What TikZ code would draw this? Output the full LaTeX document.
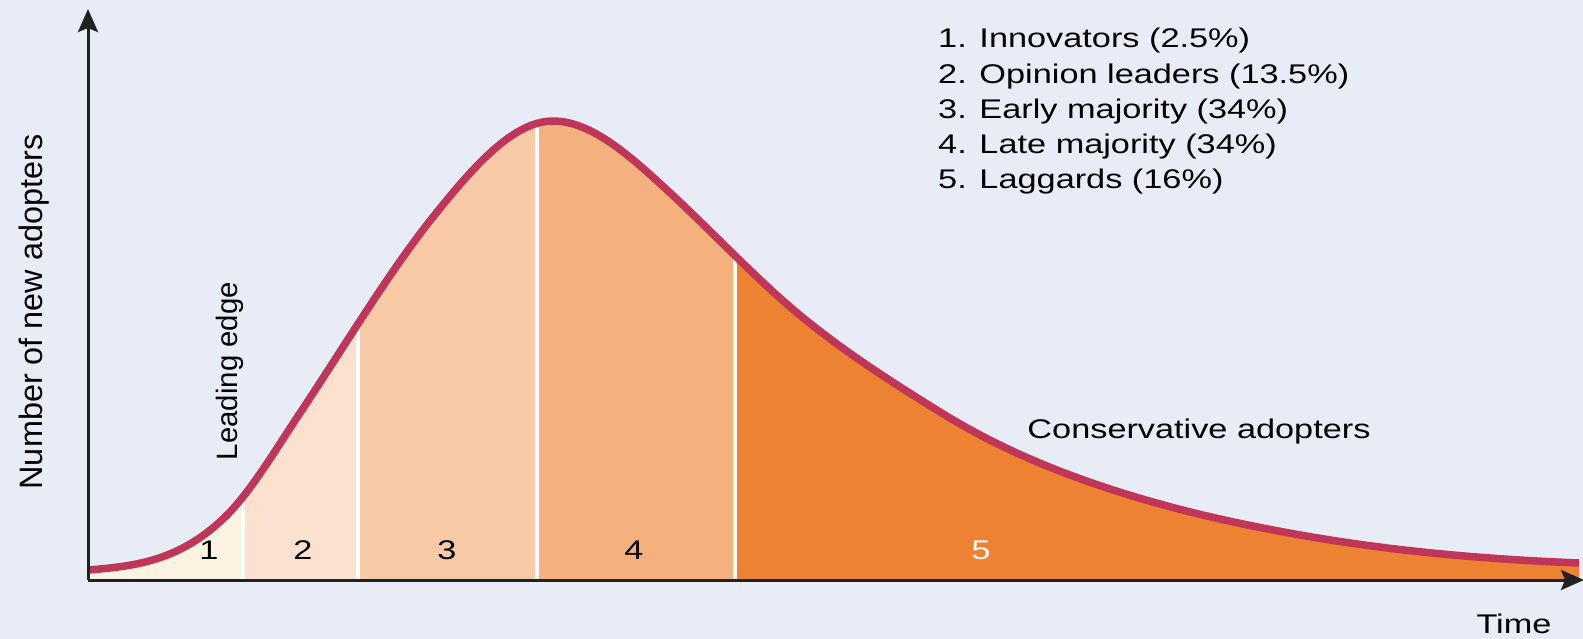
\documentclass[tikz,border=0pt]{standalone}
\usepackage{fontspec}
\setmainfont{Liberation Sans}
\newfontfamily\widefont{Liberation Sans}[FakeStretch=1.27]
\usetikzlibrary{arrows.meta}
\definecolor{bg}{HTML}{E7ECF6}
\definecolor{cA}{HTML}{FDF3E1}
\definecolor{cB}{HTML}{FCE2CE}
\definecolor{cC}{HTML}{F8CBA6}
\definecolor{cD}{HTML}{F4B17E}
\definecolor{cE}{HTML}{EC8232}
\definecolor{curvered}{HTML}{BF3658}
\definecolor{axisc}{HTML}{222222}
\begin{document}
\begin{tikzpicture}[x=1pt,y=-1pt,
  lbl/.style={font=\widefont\fontsize{27}{32}\selectfont, inner sep=0pt},
  vlbl/.style={inner sep=0pt, rotate=90, anchor=base},
  axisline/.style={axisc, line width=3pt, -{Stealth[length=23pt,width=20pt,inset=4pt]}},
  divider/.style={white, line width=4.5pt}]
\fill[bg] (0,0) rectangle (1583,639);
\useasboundingbox (0,0) rectangle (1583,639);
\coordinate (O) at (88,580);
\coordinate (ytip) at (88,9);
\coordinate (xtip) at (1584,580);
\coordinate (xend) at (1579,580);
\coordinate (cs) at (88,570);
\coordinate (ce) at (1579,563);
\begin{scope}
  \clip (O) -- (cs)
    .. controls (134.3,566.3) and (180.7,561.3) .. (227,515)
    .. controls (251.3,490.7) and (275.7,449.5) .. (300,413)
    .. controls (344.3,346.5) and (388.7,272.4) .. (433,217)
    .. controls (473,167) and (513,121) .. (553,121)
    .. controls (591,121) and (629,155) .. (667,190)
    .. controls (713.7,232.9) and (760.3,283.7) .. (807,321)
    .. controls (851.3,356.5) and (895.7,384.5) .. (940,412)
    .. controls (995.7,446.5) and (1051.3,469.6) .. (1107,488)
    .. controls (1175.3,510.5) and (1243.7,525.4) .. (1312,537)
    .. controls (1401,552.1) and (1490,559.4) .. (ce)
    -- (xend) -- cycle;
  \fill[cA] (88,0) rectangle (243,580);
  \fill[cB] (243,0) rectangle (358,580);
  \fill[cC] (358,0) rectangle (537,580);
  \fill[cD] (537,0) rectangle (735,580);
  \fill[cE] (735,0) rectangle (1583,580);
  \draw[divider] (243,580) -- (243,0);
  \draw[divider] (358,580) -- (358,0);
  \draw[divider] (537,580) -- (537,0);
  \draw[divider] (735,580) -- (735,0);
\end{scope}
\draw[curvered, line width=7.5pt] (cs)
    .. controls (134.3,566.3) and (180.7,561.3) .. (227,515)
    .. controls (251.3,490.7) and (275.7,449.5) .. (300,413)
    .. controls (344.3,346.5) and (388.7,272.4) .. (433,217)
    .. controls (473,167) and (513,121) .. (553,121)
    .. controls (591,121) and (629,155) .. (667,190)
    .. controls (713.7,232.9) and (760.3,283.7) .. (807,321)
    .. controls (851.3,356.5) and (895.7,384.5) .. (940,412)
    .. controls (995.7,446.5) and (1051.3,469.6) .. (1107,488)
    .. controls (1175.3,510.5) and (1243.7,525.4) .. (1312,537)
    .. controls (1401,552.1) and (1490,559.4) .. (ce);
\draw[axisline] (O) -- (ytip);
\draw[axisline] (O) -- (xtip);
% labels
\node[lbl, anchor=base] (n1) at (209,559) {1};
\node[lbl, anchor=base] (n2) at (303,559) {2};
\node[lbl, anchor=base] (n3) at (447,559) {3};
\node[lbl, anchor=base] (n4) at (634,559) {4};
\node[lbl, anchor=base, text=white] (n5) at (981,559) {5};
\node[lbl, anchor=base west] (l1) at (938,48) {1. Innovators (2.5\%)};
\node[lbl, anchor=base west] (l2) at (938,83.3) {2. Opinion leaders (13.5\%)};
\node[lbl, anchor=base west] (l3) at (938,118.6) {3. Early majority (34\%)};
\node[lbl, anchor=base west] (l4) at (938,154) {4. Late majority (34\%)};
\node[lbl, anchor=base west] (l5) at (938,189) {5. Laggards (16\%)};
\node[lbl, anchor=base] (cons) at (1199,438) {Conservative adopters};
\node[lbl, anchor=base] (time) at (1514,633) {Time};
\node[vlbl, font=\fontsize{32.4}{38}\selectfont] (ylab) at (42,312) {Number of new adopters};
\node[vlbl, font=\fontsize{29.4}{35}\selectfont] (lead) at (237,371) {Leading edge};
\end{tikzpicture}
\end{document}
